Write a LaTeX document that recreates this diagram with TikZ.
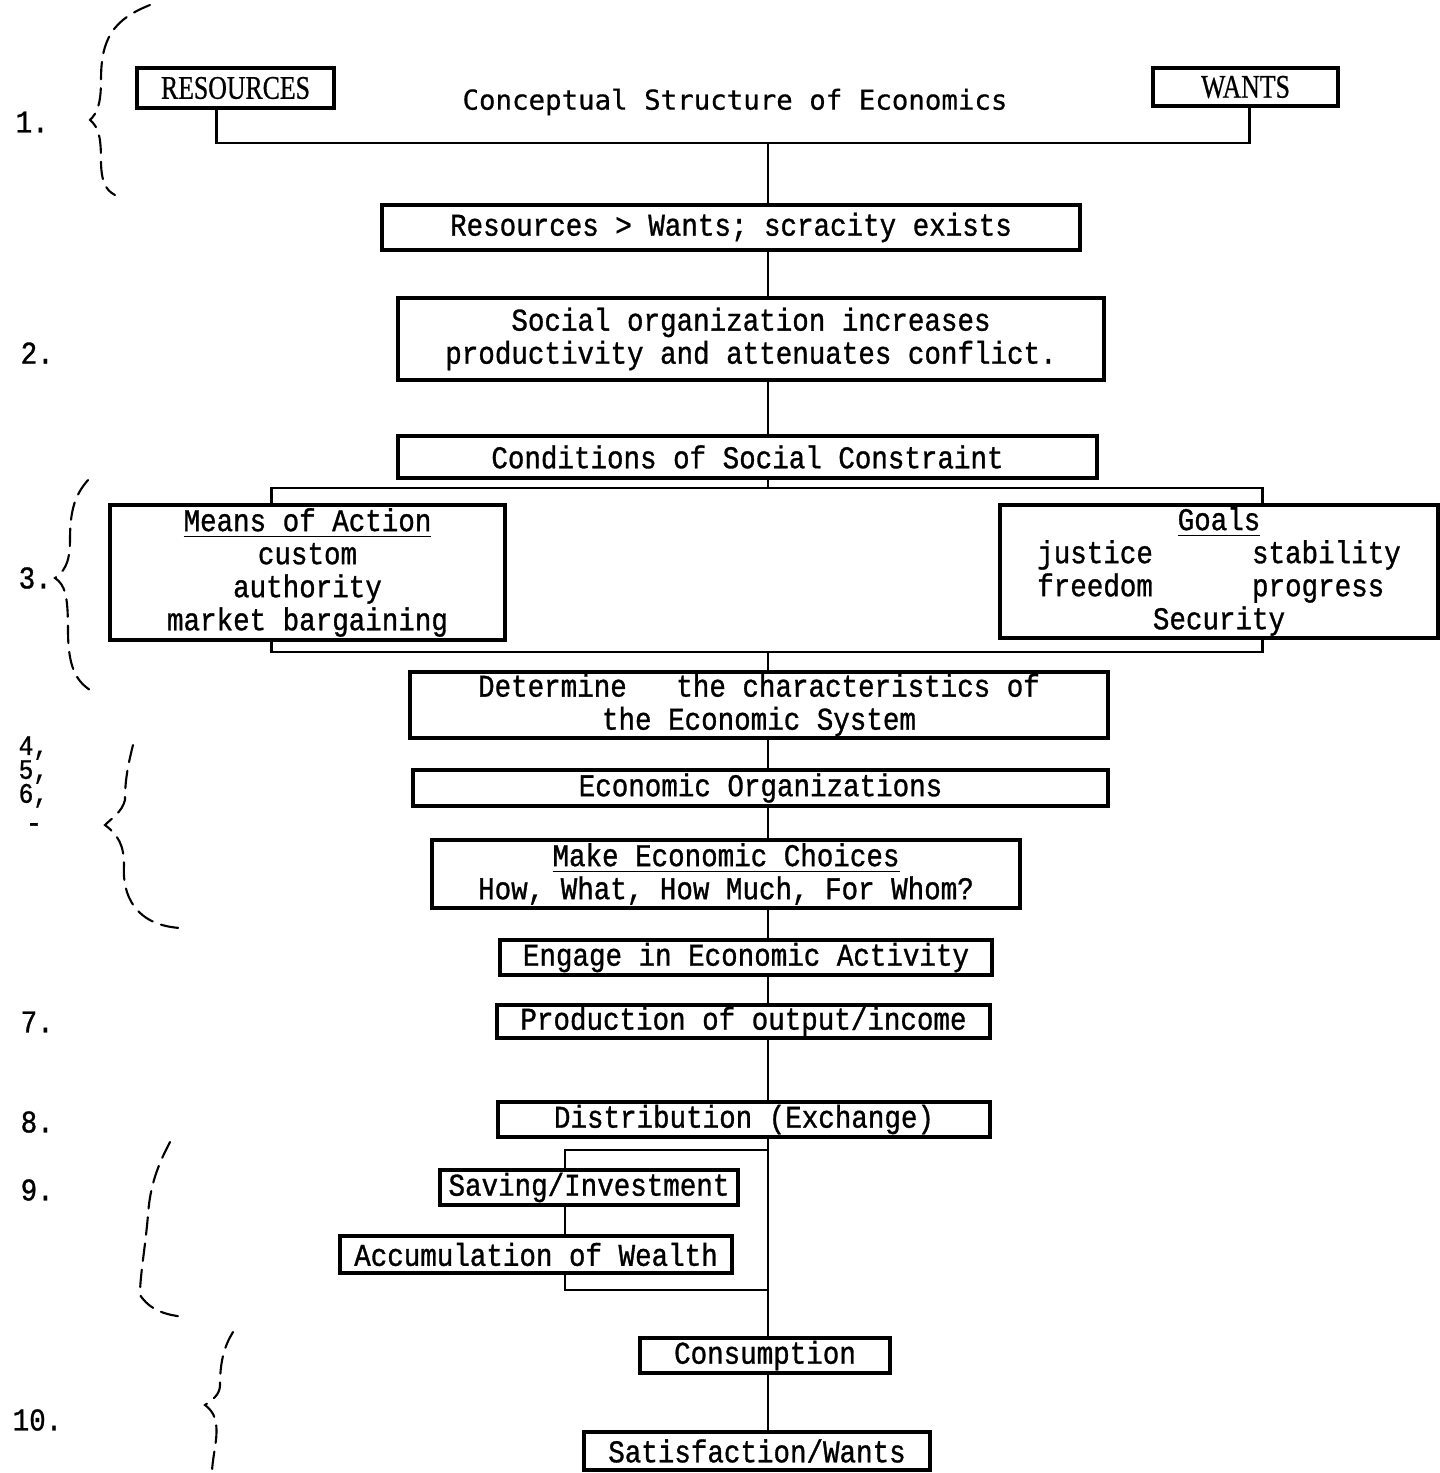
\documentclass[tikz,border=0pt]{standalone}
\usepackage{fontspec}
\usetikzlibrary{calc}
\newfontfamily\tw{Liberation Mono}[FakeStretch=0.87,FakeBold=1]
\newfontfamily\capsf{Liberation Serif}[FakeStretch=0.78,FakeBold=0.6]
\newfontfamily\gothic{DejaVu Sans Mono}[FakeBold=0.6]
\newcommand\tightnum{\fontsize{8}{6.8}\selectfont\lineskiplimit=-20pt\relax}
\tikzset{
  box/.style={draw,line width=0.9pt,inner sep=0pt,align=center,font=\tw\fontsize{9}{9.4}\selectfont},
  wh/.style 2 args={minimum width=#1*0.01cm,minimum height=#2*0.01cm},
  ln/.style={line width=0.8pt},
  brc/.style={line width=0.6pt,dash pattern=on 5pt off 2.5pt,line cap=round},
  num/.style={anchor=west,inner sep=0pt,font=\tw\fontsize{9}{9.4}\selectfont}
}

\begin{document}
\begin{tikzpicture}[x=0.01cm,y=-0.01cm]
\clip (0,0) rectangle (1440,1473);
\fill[white] (0,0) rectangle (1440,1473);
\node[box,wh={197}{40},font=\capsf\fontsize{9.4}{10}\selectfont] (rsrc) at (235.5,88) {RESOURCES};
\node[box,wh={185}{38},font=\capsf\fontsize{9.4}{10}\selectfont] (wants) at (1245.5,87) {WANTS};
\node[font=\gothic\fontsize{7.8}{9}\selectfont] (title) at (735,102) {Conceptual Structure of Economics};
\node[box,wh={698}{45}] (scar) at (731,227.5) {Resources > Wants; scracity exists};
\node[box,wh={706}{82}] (socorg) at (751,339) {Social organization increases\\productivity and attenuates conflict.};
\node[box,wh={699}{42}] (cond) at (747.5,457) {Conditions of Social Constraint};
\node[box,wh={395}{135}] (means) at (307.5,572.5) {\underline{Means of Action}\\custom\\authority\\market bargaining};
\node[box,wh={438}{133}] (goals) at (1219,571.5) {\underline{Goals}\\justice\ \ \ \ \ \ stability\\freedom\ \ \ \ \ \ progress\phantom{y}\\Security};
\node[box,wh={698}{66}] (detm) at (759,705) {Determine\ \ \ the characteristics of\\the Economic System};
\node[box,wh={695}{36}] (ecorg) at (760.5,788) {Economic Organizations};
\node[box,wh={588}{68}] (choice) at (726,874) {\underline{Make Economic Choices}\\How, What, How Much, For Whom?};
\node[box,wh={492}{35}] (engage) at (746,957.5) {Engage in Economic Activity};
\node[box,wh={493}{33}] (prod) at (743.5,1021.5) {Production of output/income};
\node[box,wh={492}{35}] (distr) at (744,1119.5) {Distribution (Exchange)};
\node[box,wh={298}{35}] (saving) at (589,1187.5) {Saving/Investment};
\node[box,wh={392}{37}] (accum) at (536,1254.5) {Accumulation of Wealth};
\node[box,wh={250}{35}] (consum) at (765,1355.5) {Consumption};
\node[box,wh={346}{38}] (satis) at (757,1451) {Satisfaction/Wants};

\coordinate (ax) at (768,0);
\coordinate (bx) at (565,0);
\coordinate (j1) at (768,143);
\coordinate (j2) at (768,488);
\coordinate (j3) at (768,652);
\coordinate (j4) at (768,1150);
\coordinate (j5) at (768,1290);
\draw[ln] ($(rsrc.south west)!0.406!(rsrc.south east)$) |- (j1) -| ($(wants.south west)!0.52!(wants.south east)$);
\draw[ln] (j1) -- (scar.north -| ax);
\draw[ln] (cond.south -| ax) -- (j2);
\draw[ln] ($(means.north west)!0.41!(means.north east)$) |- (j2) -| ($(goals.north west)!0.598!(goals.north east)$);
\draw[ln] ($(means.south west)!0.41!(means.south east)$) |- (j3) -| ($(goals.south west)!0.598!(goals.south east)$);
\draw[ln] (j3) -- (detm.north -| ax);
\foreach \a/\b in {scar/socorg,socorg/cond,detm/ecorg,ecorg/choice,choice/engage,engage/prod,prod/distr,distr/consum,consum/satis}
  \draw[ln] (\a.south -| ax) -- (\b.north -| ax);
\draw[ln] (j4) -| (saving.north -| bx);
\draw[ln] (saving.south -| bx) -- (accum.north -| bx);
\draw[ln] (accum.south -| bx) |- (j5);

\draw[brc] (150,5) .. controls (112,20) and (101,40) .. (101,80) .. controls (101,105) and (97,113) .. (90,120)
  .. controls (98,127) and (101,135) .. (101,160) .. controls (101,180) and (105,190) .. (115,195);
\draw[brc] (88,480) .. controls (75,495) and (70,510) .. (70,540) .. controls (70,565) and (63,572) .. (55,578)
  .. controls (65,585) and (68,595) .. (68,630) .. controls (68,665) and (75,680) .. (90,690);
\draw[brc] (133,745) .. controls (128,765) and (125,780) .. (125,800) .. controls (122,812) and (112,818) .. (105,825)
  .. controls (118,835) and (124,845) .. (124,865) .. controls (122,895) and (135,925) .. (180,928);
\draw[brc] (170,1142) .. controls (158,1165) and (150,1185) .. (148,1215) .. controls (145,1250) and (140,1275) .. (140,1295)
  .. controls (150,1310) and (165,1315) .. (185,1317);
\draw[brc] (233,1332) .. controls (225,1345) and (220,1360) .. (220,1385) .. controls (220,1395) and (212,1400) .. (205,1405)
  .. controls (214,1412) and (218,1420) .. (216,1440) .. controls (214,1455) and (212,1465) .. (212,1473);

\node[num] (n1) at (15,122) {1.};
\node[num] (n2) at (20,353) {2.};
\node[num] (n3) at (18,578) {3.};
\node[num,align=left,font=\tw\tightnum] (n4) at (18,772) {4,\\5,\\6,};
\node[num] (n6b) at (25,828) {-};
\node[num] (n7) at (20,1022) {7.};
\node[num] (n8) at (20,1122) {8.};
\node[num] (n9) at (20,1190) {9.};
\node[num] (n10) at (12,1420) {10.};
\end{tikzpicture}
\end{document}
